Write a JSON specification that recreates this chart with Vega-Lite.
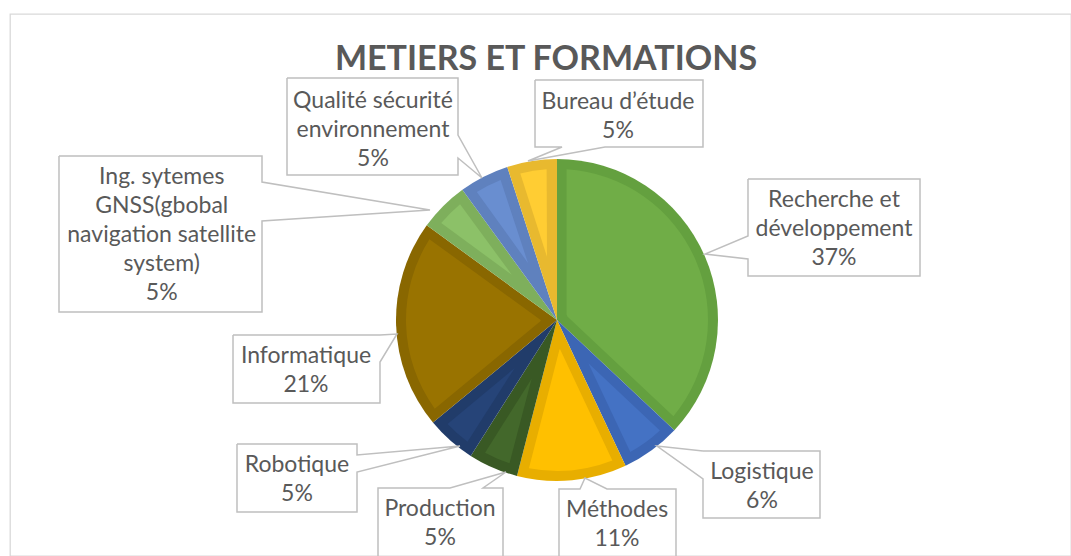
{
  "$schema": "https://vega.github.io/schema/vega-lite/v6.json",
  "width": 1071,
  "height": 556,
  "autosize": {"type": "fit", "contains": "padding"},
  "padding": {"left": 10, "top": 14, "right": 0, "bottom": 0},
  "background": "white",
  "view": {"stroke": "#D9D9D9", "strokeWidth": 1.3},
  "datasets": {
    "slices": [
      {"i": 1, "cat": "Recherche et développement", "pct": 37},
      {"i": 2, "cat": "Logistique", "pct": 6},
      {"i": 3, "cat": "Méthodes", "pct": 11},
      {"i": 4, "cat": "Production", "pct": 5},
      {"i": 5, "cat": "Robotique", "pct": 5},
      {"i": 6, "cat": "Informatique", "pct": 21},
      {"i": 7, "cat": "Ing. sytemes GNSS(gbobal navigation satellite system)", "pct": 5},
      {"i": 8, "cat": "Qualité sécurité environnement", "pct": 5},
      {"i": 9, "cat": "Bureau d’étude", "pct": 5}
    ],
    "callouts": [
      {"cat": "R", "k": 0, "x": 1.1863, "y": 0.8758},
      {"cat": "R", "k": 1, "x": 2.2547, "y": 0.8758},
      {"cat": "R", "k": 2, "x": 2.2547, "y": 0.2733},
      {"cat": "R", "k": 3, "x": 1.1863, "y": 0.2733},
      {"cat": "R", "k": 4, "x": 1.1863, "y": 0.3789},
      {"cat": "R", "k": 5, "x": 0.9193, "y": 0.4099},
      {"cat": "R", "k": 6, "x": 1.1863, "y": 0.5217},
      {"cat": "R", "k": 7, "x": 1.1863, "y": 0.8758},
      {"cat": "L", "k": 0, "x": 0.9068, "y": -0.8137},
      {"cat": "L", "k": 1, "x": 1.6335, "y": -0.8137},
      {"cat": "L", "k": 2, "x": 1.6335, "y": -1.2298},
      {"cat": "L", "k": 3, "x": 0.9068, "y": -1.2298},
      {"cat": "L", "k": 4, "x": 0.9068, "y": -0.9876},
      {"cat": "L", "k": 5, "x": 0.6211, "y": -0.7826},
      {"cat": "L", "k": 6, "x": 0.9068, "y": -0.8137},
      {"cat": "M", "k": 0, "x": 0.0124, "y": -1.5528},
      {"cat": "M", "k": 1, "x": 0.0124, "y": -1.0497},
      {"cat": "M", "k": 2, "x": 0.1429, "y": -1.0497},
      {"cat": "M", "k": 3, "x": 0.1739, "y": -0.9814},
      {"cat": "M", "k": 4, "x": 0.3106, "y": -1.0497},
      {"cat": "M", "k": 5, "x": 0.7391, "y": -1.0497},
      {"cat": "M", "k": 6, "x": 0.7391, "y": -1.5528},
      {"cat": "P", "k": 0, "x": -1.1118, "y": -1.5528},
      {"cat": "P", "k": 1, "x": -1.1118, "y": -1.0435},
      {"cat": "P", "k": 2, "x": -0.6646, "y": -1.0435},
      {"cat": "P", "k": 3, "x": -0.3168, "y": -0.9441},
      {"cat": "P", "k": 4, "x": -0.4596, "y": -1.0435},
      {"cat": "P", "k": 5, "x": -0.3354, "y": -1.0435},
      {"cat": "P", "k": 6, "x": -0.3354, "y": -1.5528},
      {"cat": "Ro", "k": 0, "x": -1.9876, "y": -0.7702},
      {"cat": "Ro", "k": 1, "x": -1.2422, "y": -0.7702},
      {"cat": "Ro", "k": 2, "x": -1.2422, "y": -0.8385},
      {"cat": "Ro", "k": 3, "x": -0.6025, "y": -0.7826},
      {"cat": "Ro", "k": 4, "x": -1.2422, "y": -0.9441},
      {"cat": "Ro", "k": 5, "x": -1.2422, "y": -1.1925},
      {"cat": "Ro", "k": 6, "x": -1.9876, "y": -1.1925},
      {"cat": "Ro", "k": 7, "x": -1.9876, "y": -0.7702},
      {"cat": "I", "k": 0, "x": -2.0124, "y": -0.0932},
      {"cat": "I", "k": 1, "x": -1.0994, "y": -0.0932},
      {"cat": "I", "k": 2, "x": -0.9938, "y": -0.0870},
      {"cat": "I", "k": 3, "x": -1.0994, "y": -0.2609},
      {"cat": "I", "k": 4, "x": -1.0994, "y": -0.5155},
      {"cat": "I", "k": 5, "x": -2.0124, "y": -0.5155},
      {"cat": "I", "k": 6, "x": -2.0124, "y": -0.0932},
      {"cat": "G", "k": 0, "x": -3.0932, "y": 1.0186},
      {"cat": "G", "k": 1, "x": -1.8323, "y": 1.0186},
      {"cat": "G", "k": 2, "x": -1.8323, "y": 0.8571},
      {"cat": "G", "k": 3, "x": -0.7888, "y": 0.6832},
      {"cat": "G", "k": 4, "x": -1.8323, "y": 0.6149},
      {"cat": "G", "k": 5, "x": -1.8323, "y": 0.0497},
      {"cat": "G", "k": 6, "x": -3.0932, "y": 0.0497},
      {"cat": "G", "k": 7, "x": -3.0932, "y": 1.0186},
      {"cat": "Q", "k": 0, "x": -1.6770, "y": 1.5031},
      {"cat": "Q", "k": 1, "x": -0.6149, "y": 1.5031},
      {"cat": "Q", "k": 2, "x": -0.6149, "y": 1.1491},
      {"cat": "Q", "k": 3, "x": -0.4658, "y": 0.8820},
      {"cat": "Q", "k": 4, "x": -0.6149, "y": 1.0062},
      {"cat": "Q", "k": 5, "x": -0.6149, "y": 0.9006},
      {"cat": "Q", "k": 6, "x": -1.6770, "y": 0.9006},
      {"cat": "Q", "k": 7, "x": -1.6770, "y": 1.5031},
      {"cat": "B", "k": 0, "x": -0.1366, "y": 1.4907},
      {"cat": "B", "k": 1, "x": 0.9068, "y": 1.4907},
      {"cat": "B", "k": 2, "x": 0.9068, "y": 1.0745},
      {"cat": "B", "k": 3, "x": 0.2981, "y": 1.0745},
      {"cat": "B", "k": 4, "x": -0.1801, "y": 0.9876},
      {"cat": "B", "k": 5, "x": 0.0311, "y": 1.0745},
      {"cat": "B", "k": 6, "x": -0.1366, "y": 1.0745},
      {"cat": "B", "k": 7, "x": -0.1366, "y": 1.4907}
    ],
    "labels": [
      {"x": 1.7205, "y": 0.7453, "t": "Recherche et\ndéveloppement\n37%"},
      {"x": 1.2733, "y": -0.9441, "t": "Logistique\n6%"},
      {"x": 0.3727, "y": -1.1801, "t": "Méthodes\n11%"},
      {"x": -0.7267, "y": -1.1739, "t": "Production\n5%"},
      {"x": -1.6149, "y": -0.9006, "t": "Robotique\n5%"},
      {"x": -1.5590, "y": -0.2236, "t": "Informatique\n21%"},
      {"x": -2.4553, "y": 0.8882, "t": "Ing. sytemes\nGNSS(gbobal\nnavigation satellite\nsystem)\n5%"},
      {"x": -1.1429, "y": 1.3602, "t": "Qualité sécurité\nenvironnement\n5%"},
      {"x": 0.3789, "y": 1.3540, "t": "Bureau d’étude\n5%"}
    ]
  },
  "resolve": {"scale": {"color": "independent"}},
  "layer": [
    {
      "data": {"name": "slices"},
      "mark": {"type": "arc", "radius": 161, "innerRadius": 0},
      "encoding": {
        "x": {"datum": 0, "type": "quantitative", "scale": {"type": "linear", "domain": [-3.39752, 3.19255], "nice": false, "zero": false}, "axis": null},
        "y": {"datum": 0, "type": "quantitative", "scale": {"type": "linear", "domain": [-1.46584, 1.90062], "nice": false, "zero": false}, "axis": null},
        "theta": {"field": "pct", "type": "quantitative", "stack": true},
        "order": {"field": "i", "type": "quantitative"},
        "color": {
          "field": "cat", "type": "nominal", "legend": null,
          "scale": {
            "domain": ["Recherche et développement", "Logistique", "Méthodes", "Production", "Robotique", "Informatique", "Ing. sytemes GNSS(gbobal navigation satellite system)", "Qualité sécurité environnement", "Bureau d’étude"],
            "range": ["#64A03F", "#3C66B4", "#E8AE00", "#395924", "#213C6A", "#896700", "#7EAF5C", "#5F81BE", "#E8B92F"]
          }
        }
      }
    },
    {
      "data": {"name": "slices"},
      "mark": {"type": "arc", "radius": 151, "innerRadius": {"expr": "10/sin(datum.pct*PI/100)"}, "padAngle": 0.1266},
      "encoding": {
        "x": {"datum": 0, "type": "quantitative"},
        "y": {"datum": 0, "type": "quantitative"},
        "theta": {"field": "pct", "type": "quantitative", "stack": true},
        "order": {"field": "i", "type": "quantitative"},
        "color": {
          "field": "cat", "type": "nominal", "legend": null,
          "scale": {
            "domain": ["Recherche et développement", "Logistique", "Méthodes", "Production", "Robotique", "Informatique", "Ing. sytemes GNSS(gbobal navigation satellite system)", "Qualité sécurité environnement", "Bureau d’étude"],
            "range": ["#70AD47", "#4472C4", "#FFC000", "#43682B", "#264478", "#997300", "#8CC168", "#698ED0", "#FFCD33"]
          }
        }
      }
    },
    {
      "data": {"name": "callouts"},
      "mark": {"type": "line", "stroke": "#BFBFBF", "strokeWidth": 1.5, "strokeJoin": "miter", "clip": true},
      "encoding": {
        "x": {"field": "x", "type": "quantitative"},
        "y": {"field": "y", "type": "quantitative"},
        "detail": {"field": "cat"},
        "order": {"field": "k", "type": "quantitative"}
      }
    },
    {
      "data": {"name": "labels"},
      "mark": {"type": "text", "font": "Lato", "fontSize": 23, "lineHeight": 29, "lineBreak": "\n", "align": "center", "baseline": "middle", "fill": "#595959"},
      "encoding": {
        "x": {"field": "x", "type": "quantitative"},
        "y": {"field": "y", "type": "quantitative"},
        "text": {"field": "t"}
      }
    },
    {
      "data": {"values": [{"title": "METIERS ET FORMATIONS"}]},
      "mark": {"type": "text", "font": "Lato", "fontSize": 34, "fontWeight": "bold", "align": "center", "baseline": "alphabetic", "fill": "#595959"},
      "encoding": {
        "x": {"datum": -0.0683, "type": "quantitative"},
        "y": {"datum": 1.5528, "type": "quantitative"},
        "text": {"field": "title"}
      }
    }
  ]
}
